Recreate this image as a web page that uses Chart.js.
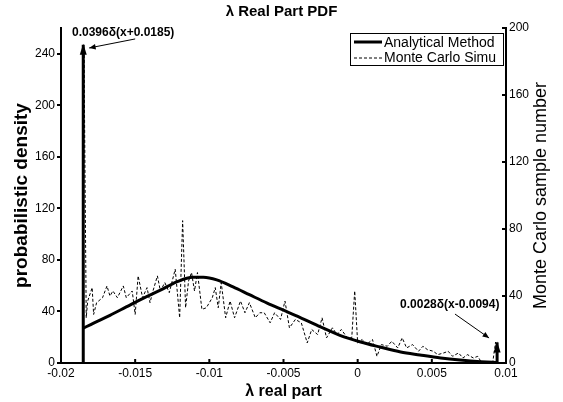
<!DOCTYPE html>
<html lang="en">
<head>
<meta charset="UTF-8">
<title>λ Real Part PDF</title>
<script src="https://cdn.jsdelivr.net/npm/chart.js@4.4.1/dist/chart.umd.min.js"></script>
<style>
    html, body {margin: 0; padding: 0; background: #fff;}
    #wrap {width: 563px; height: 402px;}
</style>
</head>
<body>
<div id="wrap"><canvas id="myChart" width="563" height="402"></canvas></div>
<script>
// analytical pdf (left axis)
const pdfX = [-0.0185, -0.0178, -0.0167, -0.0156, -0.0145, -0.0133, -0.0122, -0.0111, -0.0104, -0.0095,
              -0.0084, -0.0073, -0.0061, -0.0050, -0.0039, -0.0025, -0.0012, 0.0002, 0.0015, 0.0029,
              0.0042, 0.0056, 0.0069, 0.0083, 0.0091, 0.0094];
const pdfY = [27, 31, 37, 43.5, 50, 56.5, 63, 66.5, 66.5, 64.5,
              59, 53, 46.5, 41, 35.5, 28, 21.5, 16.3, 12.4, 8.5,
              6.2, 3.9, 2.3, 1, 0.5, 0.4];

// monte carlo histogram (right axis)
const mcX = [-0.0185, -0.01845, -0.0183, -0.0182, -0.0179, -0.0178, -0.0176, -0.0172, -0.0169, -0.0167,
             -0.0165, -0.0162, -0.0158, -0.0156, -0.0152, -0.0150, -0.0148, -0.0145, -0.0142, -0.0140,
             -0.0138, -0.0135, -0.0133, -0.0130, -0.0127, -0.0123, -0.0120, -0.0118, -0.0116, -0.0114,
             -0.0112, -0.0110, -0.0108, -0.0105, -0.0102, -0.0098, -0.0096, -0.0094, -0.0092, -0.0089,
             -0.0086, -0.0083, -0.0079, -0.0076, -0.0073, -0.0069, -0.0066, -0.0063, -0.0059, -0.0056,
             -0.0052, -0.0049, -0.0046, -0.0042, -0.0038, -0.0034, -0.0031, -0.0027, -0.0024, -0.0021,
             -0.0017, -0.0014, -0.0011, -0.0007, -0.0004, -0.0002, 0.0000, 0.0003, 0.0006, 0.0010,
             0.0013, 0.0016, 0.0020, 0.0023, 0.0027, 0.0030, 0.0033, 0.0037, 0.0041, 0.0044,
             0.0047, 0.0051, 0.0054, 0.0058, 0.0061, 0.0064, 0.0068, 0.0071, 0.0074, 0.0078,
             0.0081, 0.0083, 0.0087, 0.0091, 0.0093, 0.0094];
const mcY = [0, 186, 27, 37, 45, 29, 36, 39, 46, 40,
             43, 39, 46, 39, 43, 29, 52, 39, 45, 36,
             43, 52, 43, 48, 42, 56, 27, 85, 33, 49,
             54, 43, 54, 32, 33, 39, 45, 33, 48, 27,
             37, 27, 37, 30, 36, 27, 30, 30, 24, 30,
             26, 37, 21, 26, 24, 12, 20, 17, 27, 15,
             21, 17, 20, 15, 15, 43, 12, 14, 11, 14,
             4, 11, 10, 13, 9, 15, 9, 11, 7, 10,
             8, 7, 5, 6, 7, 4, 6, 3, 5, 3,
             4, 1, 0, 0, 12.5, 0];

// delta functions (position, arrow height on left axis)
const deltaLeft = [-0.0185, 247];
const deltaRight = [0.0094, 16];

const xTicks = [-0.02, -0.015, -0.01, -0.005, 0, 0.005, 0.01];
const xTickLabels = ['-0.02', '-0.015', '-0.01', '-0.005', '0', '0.005', '0.01'];
const leftTicks = [0, 40, 80, 120, 160, 200, 240];
const rightTicks = [0, 40, 80, 120, 160, 200];

const legendLabels = ['Analytical Method', 'Monte Carlo Simu'];

// text notes, placed in data units of x / left y
const notes = [
    {text: '0.0396δ(x+0.0185)', tx: -0.01926, ty: 256, from: [-0.0150, 251.5], to: [-0.0181, 244.5]},
    {text: '0.0028δ(x-0.0094)', tx: 0.00286, ty: 45, from: [0.00656, 38], to: [0.00886, 19.4]}
];

Chart.defaults.font.family = "'Liberation Sans', Arial, sans-serif";
Chart.defaults.color = '#000';

function pts(xs, ys) { return xs.map((v, i) => ({x: v, y: ys[i]})); }

function arrow(ctx, x0, y0, x1, y1, size) {
    ctx.beginPath();
    ctx.moveTo(x0, y0);
    ctx.lineTo(x1, y1);
    ctx.stroke();
    const ang = Math.atan2(y1 - y0, x1 - x0);
    ctx.beginPath();
    ctx.moveTo(x1, y1);
    ctx.lineTo(x1 - size * Math.cos(ang - 0.4), y1 - size * Math.sin(ang - 0.4));
    ctx.lineTo(x1 - size * Math.cos(ang + 0.4), y1 - size * Math.sin(ang + 0.4));
    ctx.closePath();
    ctx.fill();
}

const extras = {
    id: 'extras',
    afterDatasetsDraw(chart) {
        const {ctx, chartArea: a, scales: {x, y, y2}} = chart;
        ctx.save();
        ctx.strokeStyle = '#000';
        ctx.fillStyle = '#000';

        // inward ticks, bottom and right
        ctx.lineWidth = 2;
        ctx.beginPath();
        x.ticks.forEach(t => {
            const px = x.getPixelForValue(t.value);
            ctx.moveTo(px, a.bottom);
            ctx.lineTo(px, a.bottom - 4);
        });
        y2.ticks.forEach(t => {
            const py = y2.getPixelForValue(t.value);
            ctx.moveTo(a.right, py);
            ctx.lineTo(a.right - 4, py);
        });
        ctx.stroke();

        // arrow heads on the delta lines
        [1, 2].forEach(i => {
            const p = chart.getDatasetMeta(i).data[1];
            ctx.beginPath();
            ctx.moveTo(p.x, p.y - 1);
            ctx.lineTo(p.x - 3.5, p.y + 10);
            ctx.lineTo(p.x + 3.5, p.y + 10);
            ctx.closePath();
            ctx.fill();
        });

        // notes
        ctx.font = "bold 12px 'Liberation Sans', Arial, sans-serif";
        ctx.textAlign = 'left';
        ctx.textBaseline = 'middle';
        ctx.lineWidth = 1;
        notes.forEach(n => {
            ctx.fillText(n.text, x.getPixelForValue(n.tx), y.getPixelForValue(n.ty));
            arrow(ctx, x.getPixelForValue(n.from[0]), y.getPixelForValue(n.from[1]),
                  x.getPixelForValue(n.to[0]), y.getPixelForValue(n.to[1]), 7);
        });

        // legend box
        const lw = 153, lh = 32;
        const lx = a.right - 3 - lw, ly = a.top + 5;
        ctx.fillStyle = '#fff';
        ctx.fillRect(lx, ly, lw, lh);
        ctx.strokeStyle = '#000';
        ctx.lineWidth = 1;
        ctx.strokeRect(lx + 0.5, ly + 0.5, lw, lh);
        ctx.fillStyle = '#000';
        ctx.font = "14px 'Liberation Sans', Arial, sans-serif";
        ctx.lineWidth = 3;
        ctx.beginPath();
        ctx.moveTo(lx + 4, ly + 9);
        ctx.lineTo(lx + 32, ly + 9);
        ctx.stroke();
        ctx.fillText(legendLabels[0], lx + 34, ly + 10);
        ctx.lineWidth = 1;
        ctx.setLineDash([3, 2]);
        ctx.beginPath();
        ctx.moveTo(lx + 4, ly + 25);
        ctx.lineTo(lx + 32, ly + 25);
        ctx.stroke();
        ctx.setLineDash([]);
        ctx.fillText(legendLabels[1], lx + 34, ly + 25);

        // right axis title, reading upward like the left one
        ctx.save();
        ctx.translate(chart.width - 22, (a.top + a.bottom) / 2);
        ctx.rotate(-Math.PI / 2);
        ctx.textAlign = 'center';
        ctx.font = "18px 'Liberation Sans', Arial, sans-serif";
        ctx.fillText('Monte Carlo sample number', 0, 0);
        ctx.restore();

        ctx.restore();
    }
};

new Chart(document.getElementById('myChart'), {
    type: 'scatter',
    data: {
        datasets: [
            {label: legendLabels[0], data: pts(pdfX, pdfY), yAxisID: 'y', showLine: true,
             borderColor: '#000', borderWidth: 3, cubicInterpolationMode: 'monotone', pointRadius: 0},
            {label: 'deltaL', data: [{x: deltaLeft[0], y: 0}, {x: deltaLeft[0], y: deltaLeft[1]}], yAxisID: 'y',
             showLine: true, borderColor: '#000', borderWidth: 3, pointRadius: 0},
            {label: 'deltaR', data: [{x: deltaRight[0], y: 0}, {x: deltaRight[0], y: deltaRight[1]}], yAxisID: 'y',
             showLine: true, borderColor: '#000', borderWidth: 3, pointRadius: 0},
            {label: legendLabels[1], data: pts(mcX, mcY), yAxisID: 'y2', showLine: true,
             borderColor: '#000', borderWidth: 1, borderDash: [3, 2], pointRadius: 0}
        ]
    },
    options: {
        responsive: false,
        animation: false,
        devicePixelRatio: 1,
        layout: {padding: 0},
        plugins: {
            legend: {display: false},
            tooltip: {enabled: false},
            title: {
                display: true,
                text: 'λ Real Part PDF',
                color: '#000',
                font: {size: 15, weight: 'bold'},
                padding: {top: 3, bottom: 7}
            }
        },
        scales: {
            x: {
                type: 'linear',
                min: -0.02,
                max: 0.01,
                afterBuildTicks: s => { s.ticks = xTicks.map(v => ({value: v})); },
                afterFit: s => { s.height = 39; },
                ticks: {
                    callback: v => xTickLabels[xTicks.indexOf(v)],
                    font: {size: 12},
                    color: '#000',
                    padding: 3,
                    maxRotation: 0,
                    autoSkip: false
                },
                grid: {display: false, drawTicks: false, tickLength: 0},
                border: {display: true, color: '#000', width: 2},
                title: {display: true, text: 'λ real part', font: {size: 16, weight: 'bold'}, padding: {top: 0, bottom: 1}}
            },
            y: {
                position: 'left',
                min: 0,
                max: 260,
                afterBuildTicks: s => { s.ticks = leftTicks.map(v => ({value: v})); },
                afterFit: s => { s.width = 61; },
                ticks: {font: {size: 12}, color: '#000', padding: 2},
                grid: {display: true, drawOnChartArea: false, drawTicks: true, tickLength: 4, color: '#000', lineWidth: 2},
                border: {display: true, color: '#000', width: 2},
                title: {display: true, text: 'probabilistic density', font: {size: 19, weight: 'bold'}, padding: {top: 10, bottom: 0}}
            },
            y2: {
                position: 'right',
                min: 0,
                max: 200,
                afterBuildTicks: s => { s.ticks = rightTicks.map(v => ({value: v})); },
                afterFit: s => { s.width = 57; },
                ticks: {font: {size: 12}, color: '#000', padding: 3},
                grid: {display: false, drawTicks: false, tickLength: 0},
                border: {display: true, color: '#000', width: 2}
            }
        }
    },
    plugins: [extras]
});
</script>
</body>
</html>
